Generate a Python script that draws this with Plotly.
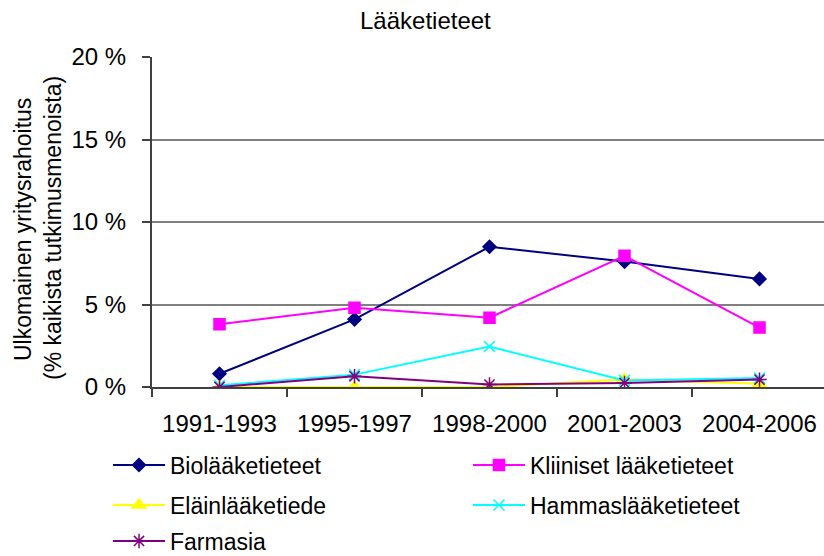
import plotly.graph_objects as go

# Periods and series values (% of total research expenditure)
periods = ["1991-1993", "1995-1997", "1998-2000", "2001-2003", "2004-2006"]

bio = [0.8, 4.1, 8.5, 7.6, 6.55]
kliiniset = [3.8, 4.8, 4.2, 7.95, 3.6]
elain = [0.0, 0.0, 0.0, 0.45, 0.2]
hammas = [0.1, 0.75, 2.45, 0.4, 0.55]
farmasia = [0.0, 0.65, 0.15, 0.25, 0.45]

y_ticks = [0, 5, 10, 15, 20]
y_tick_labels = ["0 %", "5 %", "10 %", "15 %", "20 %"]

FONT = "Liberation Sans, Arial, sans-serif"

# Pixel geometry of the plotting area
W, H = 824, 556
L, R, T, B = 152, 0, 57, 169
plot_w = W - L - R
plot_h = H - T - B


def cx(px):
    return px / W


def cy(py):
    return 1 - py / H


# name, values, colour, marker symbol, marker size, legend id, legend position (px)
series = [
    ("Biolääketieteet", bio, "#000080", "diamond", 10, "legend", (108, 465)),
    ("Kliiniset lääketieteet", kliiniset, "#FF00FF", "square", 11, "legend2", (468, 465)),
    ("Eläinlääketiede", elain, "#FFFF00", "triangle-up", 12, "legend3", (108, 505)),
    ("Hammaslääketieteet", hammas, "#00FFFF", "x-thin-open", 11, "legend4", (468, 505)),
    ("Farmasia", farmasia, "#800080", "asterisk-open", 12, "legend5", (108, 541)),
]

fig = go.Figure()
legends = {}
for name, vals, color, symbol, size, leg, (lx, ly) in series:
    fig.add_trace(go.Scatter(
        x=periods, y=vals, name=name, mode="lines+markers",
        line=dict(color=color, width=2),
        marker=dict(symbol=symbol, size=size, color=color,
                    line=dict(color=color, width=1.5)),
        legend=leg,
    ))
    legends[leg] = dict(
        orientation="h", xanchor="left", yanchor="middle",
        xref="container", yref="container", x=cx(lx), y=cy(ly),
        font=dict(family=FONT, size=23, color="#000000"),
        bgcolor="rgba(0,0,0,0)", itemwidth=52,
    )

cat_px = 135.0
x_span = plot_w / cat_px

fig.update_layout(
    width=W, height=H,
    margin=dict(l=L, r=R, t=T, b=B, pad=0, autoexpand=False),
    paper_bgcolor="white", plot_bgcolor="white",
    font=dict(family=FONT, size=24, color="#000000"),
    showlegend=True,
    xaxis=dict(
        type="category", range=[-0.5, -0.5 + x_span],
        showgrid=False, showline=True, linecolor="#404040", linewidth=2,
        ticks="outside", tickson="boundaries", ticklen=8,
        tickcolor="#404040", tickwidth=1.5, automargin=False,
        tickfont=dict(family=FONT, size=24), ticklabelstandoff=14,
    ),
    yaxis=dict(
        range=[0, 20], tickvals=y_ticks, ticktext=y_tick_labels,
        showgrid=True, gridcolor="#808080", gridwidth=1.5,
        showline=True, linecolor="#404040", linewidth=2,
        ticks="outside", ticklen=8, tickcolor="#404040", tickwidth=1.5,
        tickfont=dict(family=FONT, size=24), ticklabelstandoff=11,
        zeroline=False, automargin=False,
    ),
    annotations=[
        dict(text="Lääketieteet", xref="paper", yref="paper",
             x=(425 - L) / plot_w, y=(H - B - 21) / plot_h,
             xanchor="center", yanchor="middle",
             showarrow=False, font=dict(family=FONT, size=24)),
        dict(text="Ulkomainen yritysrahoitus", xref="paper", yref="paper",
             x=(23 - L) / plot_w, y=(H - B - 230) / plot_h,
             xanchor="center", yanchor="middle",
             textangle=-90, showarrow=False, font=dict(family=FONT, size=23)),
        dict(text="(% kaikista tutkimusmenoista)", xref="paper", yref="paper",
             x=(53 - L) / plot_w, y=(H - B - 228) / plot_h,
             xanchor="center", yanchor="middle",
             textangle=-90, showarrow=False, font=dict(family=FONT, size=23)),
    ],
)
fig.update_layout(**legends)

fig.write_html("out.html")
